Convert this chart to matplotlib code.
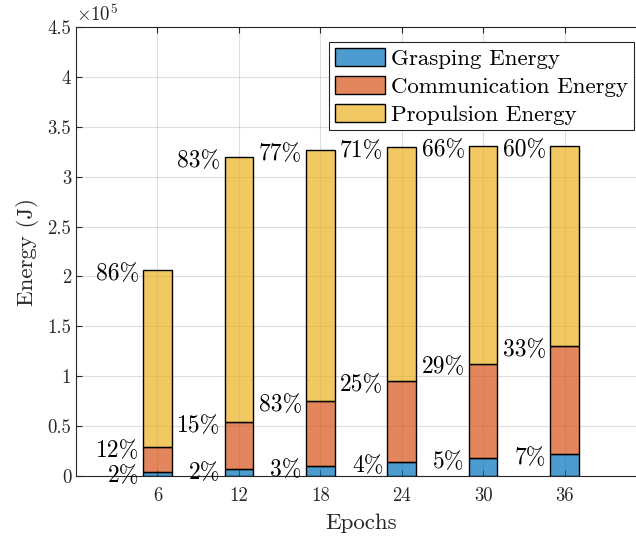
import matplotlib
matplotlib.use('Agg')
import matplotlib.pyplot as plt
import matplotlib.transforms as mtransforms
import numpy as np
from matplotlib.ticker import FuncFormatter

plt.rcParams['font.family'] = 'serif'
plt.rcParams['font.serif'] = ['cmr10']
plt.rcParams['mathtext.fontset'] = 'cm'
plt.rcParams['axes.unicode_minus'] = False

# data (J)
epochs = [6, 12, 18, 24, 30, 36]
grasp = [0.037e5, 0.070e5, 0.103e5, 0.144e5, 0.177e5, 0.217e5]
comm = [0.257e5, 0.472e5, 0.649e5, 0.806e5, 0.950e5, 1.090e5]
prop = [1.769e5, 2.654e5, 2.511e5, 2.346e5, 2.176e5, 1.996e5]

grasp_pct = ['2%', '2%', '3%', '4%', '5%', '7%']
comm_pct = ['12%', '15%', '83%', '25%', '29%', '33%']
prop_pct = ['86%', '83%', '77%', '71%', '66%', '60%']

labels = ['Grasping Energy', 'Communication Energy', 'Propulsion Energy']
colors = [(0, 0.447, 0.741), (0.85, 0.325, 0.098), (0.929, 0.694, 0.125)]
width = 2.1
gray = (0.15, 0.15, 0.15)

fig = plt.figure(figsize=(6.36, 5.36), dpi=100)
ax = fig.add_axes([76/636, 60/536, 570/636, 449/536])

x = np.array(epochs)
g = np.array(grasp)
c = np.array(comm)
p = np.array(prop)

bottoms = [np.zeros(len(x)), g, g + c]
for vals, bot, col, lab in zip([g, c, p], bottoms, colors, labels):
    ax.bar(x, vals, width, bottom=bot, color=col + (0.7,), edgecolor='k',
           linewidth=1.0, label=lab, zorder=3)

# percentage labels, left of each bar at top of each segment
shift = mtransforms.offset_copy(ax.transData, fig=fig, x=0, y=-4, units='dots')
for pcts, tops in zip([grasp_pct, comm_pct, prop_pct], [g, g + c, g + c + p]):
    for xi, t, s in zip(x, tops, pcts):
        ax.text(xi - width/2 - 0.3, t, s, ha='right', va='center',
                fontsize=17, color='k', zorder=5, transform=shift)

ax.set_xlim(0, 42)
ax.set_ylim(0, 4.5e5)
ax.set_xticks(epochs)
ax.set_yticks(np.arange(0, 4.51e5, 0.5e5))
ax.yaxis.set_major_formatter(FuncFormatter(lambda v, pos: '%g' % (v / 1e5)))
ax.tick_params(direction='in', length=4, width=0.8, colors=gray,
               labelsize=13.5, top=True, right=False)
ax.tick_params(axis='x', pad=8)
ax.grid(True, color=gray, alpha=0.15, linewidth=0.8, zorder=0)
ax.set_axisbelow(True)
for side in ['left', 'bottom', 'top']:
    ax.spines[side].set_color(gray)
    ax.spines[side].set_linewidth(0.8)
ax.spines['right'].set_visible(False)

ax.text(0, 1.005, r'$\times10^{5}$', transform=ax.transAxes, fontsize=13.5,
        color=gray, ha='left', va='bottom')

ax.set_xlabel('Epochs', fontsize=16.5, color=gray, labelpad=6)
ax.set_ylabel('Energy (J)', fontsize=16.5, color=gray, labelpad=6)

leg = ax.legend(loc='upper left', bbox_to_anchor=(329/636, 1 - 42/536),
                bbox_transform=fig.transFigure, fontsize=16.5, frameon=True,
                fancybox=False, shadow=False, framealpha=1,
                handlelength=2.2, handleheight=0.85, handletextpad=0.25,
                labelspacing=0.3, borderpad=0.25, borderaxespad=0)
leg.get_frame().set_edgecolor(gray)
leg.get_frame().set_linewidth(0.8)

fig.savefig('out.png', dpi=100)
